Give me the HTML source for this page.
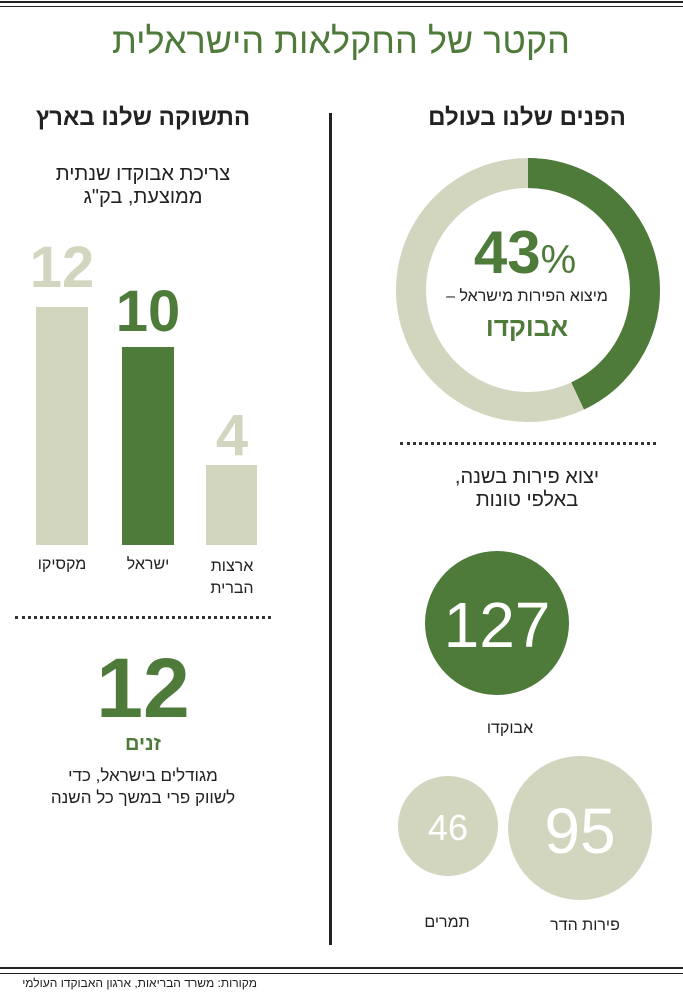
<!DOCTYPE html>
<html><head><meta charset="utf-8"><style>
body{margin:0;width:683px;height:1005px;background:#fff;position:relative;overflow:hidden;font-family:"Liberation Sans","Noto Sans CJK SC",sans-serif;}
.a{position:absolute;white-space:nowrap;}
.c{transform:translateX(-50%);text-align:center;}
.hl{position:absolute;left:0;width:683px;height:2px;background:#222;}
.g{color:#4e7a3a}
.dot{position:absolute;height:0;border-top:3px dotted #333;}
.bar{position:absolute;}
.num{font-family:"Liberation Sans",sans-serif;}
</style></head><body>
<div class="hl" style="top:1px"></div>
<div class="hl" style="top:6px;height:1px"></div>
<div class="a c g" style="left:341px;top:20px;font-size:36px;" dir="rtl">הקטר של החקלאות הישראלית</div>
<div style="position:absolute;left:329px;top:113px;width:3px;height:832px;background:#222"></div>
<div class="a c" style="left:143px;top:104px;font-size:24px;font-weight:bold;color:#222" dir="rtl">התשוקה שלנו בארץ</div>
<div class="a c" style="left:527px;top:104px;font-size:24px;font-weight:bold;color:#222" dir="rtl">הפנים שלנו בעולם</div>

<svg style="position:absolute;left:0;top:0" width="683" height="1005">
<circle cx="528" cy="290" r="117" fill="none" stroke="#d3d6bf" stroke-width="30"/>
<circle cx="528" cy="290" r="117" fill="none" stroke="#4e7a3a" stroke-width="30" stroke-dasharray="316.1 1000" transform="rotate(-90 528 290)"/>
<circle cx="497" cy="623" r="72" fill="#4e7a3a"/>
<circle cx="580" cy="828" r="72" fill="#d3d6bf"/>
<circle cx="448" cy="826" r="50" fill="#d3d6bf"/>
</svg>
<div class="a c g num" style="left:525px;top:218px;font-size:60px;font-weight:bold">43<span style="font-size:40px;font-weight:normal">%</span></div>
<div class="a c" style="left:527px;top:288px;font-size:16px;color:#222" dir="rtl">מיצוא הפירות מישראל –</div>
<div class="a c g" style="left:527px;top:312px;font-size:26px;font-weight:bold" dir="rtl">אבוקדו</div>
<div class="dot" style="left:400px;top:442px;width:256px"></div>
<div class="a c" style="left:527px;top:466px;font-size:20px;line-height:23px;color:#222" dir="rtl">יצוא פירות בשנה,<br>באלפי טונות</div>
<div class="a c num" style="left:497px;top:588px;font-size:64px;color:#fff">127</div>
<div class="a c" style="left:510px;top:720px;font-size:16px;color:#222" dir="rtl">אבוקדו</div>
<div class="a c num" style="left:580px;top:794px;font-size:64px;color:#fff">95</div>
<div class="a c num" style="left:448px;top:807px;font-size:36px;color:#fff">46</div>
<div class="a c" style="left:585px;top:917px;font-size:16px;color:#222" dir="rtl">פירות הדר</div>
<div class="a c" style="left:447px;top:914px;font-size:16px;color:#222" dir="rtl">תמרים</div>

<div class="a c" style="left:143px;top:163px;font-size:20px;line-height:23px;color:#222" dir="rtl">צריכת אבוקדו שנתית<br>ממוצעת, בק"ג</div>
<div class="bar" style="left:36px;top:307px;width:52px;height:238px;background:#d3d6bf"></div>
<div class="bar" style="left:122px;top:347px;width:52px;height:198px;background:#4e7a3a"></div>
<div class="bar" style="left:206px;top:465px;width:51px;height:80px;background:#d3d6bf"></div>
<div class="a c num" style="left:62px;top:234px;font-size:58px;color:#d3d6bf;font-weight:bold">12</div>
<div class="a c num" style="left:148px;top:278px;font-size:58px;color:#4e7a3a;font-weight:bold">10</div>
<div class="a c num" style="left:232px;top:402px;font-size:58px;color:#d3d6bf;font-weight:bold">4</div>
<div class="a c" style="left:62px;top:556px;font-size:16px;color:#222" dir="rtl">מקסיקו</div>
<div class="a c" style="left:148px;top:556px;font-size:16px;color:#222" dir="rtl">ישראל</div>
<div class="a c" style="left:232px;top:556px;font-size:16px;line-height:22px;color:#222" dir="rtl">ארצות<br>הברית</div>
<div class="dot" style="left:15px;top:616px;width:256px"></div>
<div class="a c g num" style="left:143px;top:640px;font-size:84px;font-weight:bold">12</div>
<div class="a c g" style="left:143px;top:733px;font-size:20px;font-weight:bold" dir="rtl">זנים</div>
<div class="a c" style="left:143px;top:765px;font-size:17px;line-height:22px;color:#222" dir="rtl">מגודלים בישראל, כדי<br>לשווק פרי במשך כל השנה</div>

<div class="hl" style="top:967px"></div>
<div class="hl" style="top:973px;height:1px"></div>
<div class="a" style="right:426px;top:976px;font-size:12px;color:#222" dir="rtl">מקורות: משרד הבריאות, ארגון האבוקדו העולמי</div>
</body></html>
